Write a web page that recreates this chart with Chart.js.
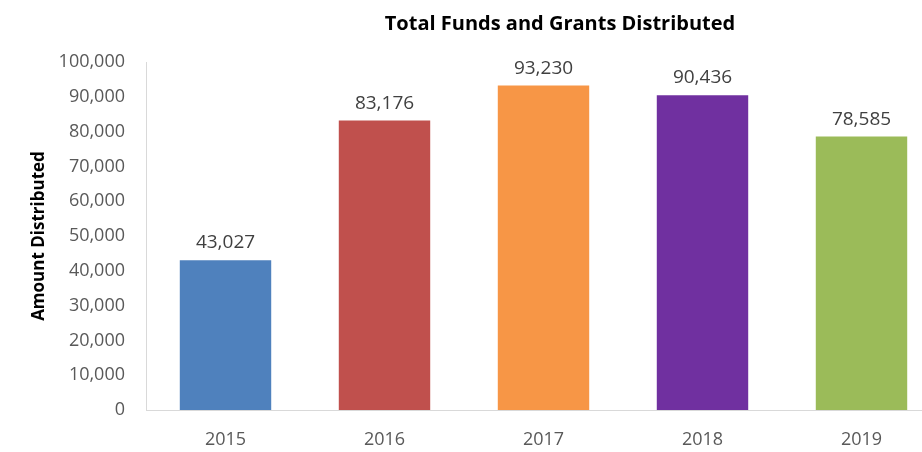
<!DOCTYPE html>
<html>
<head>
<meta charset="utf-8">
<script src="https://cdn.jsdelivr.net/npm/chart.js@4/dist/chart.umd.min.js"></script>
<style>
  html, body { margin: 0; padding: 0; background: #fff; overflow: hidden; }
  #wrap { width: 1120px; height: 452px; }
</style>
</head>
<body>
<div id="wrap"><canvas id="myChart" width="1120" height="452"></canvas></div>
<script>
const years = ['2015', '2016', '2017', '2018', '2019'];
const amounts = [43027, 83176, 93230, 90436, 78585];
const barColors = ['#4f81bd', '#c0504d', '#f79646', '#7030a0', '#9bbb59'];
const yTicks = [0, 10000, 20000, 30000, 40000, 50000, 60000, 70000, 80000, 90000, 100000];

const FONT = '"Open Sans", sans-serif';

// value labels above each bar
const valueLabels = {
    id: 'valueLabels',
    afterDatasetsDraw(chart) {
        const ctx = chart.ctx;
        const meta = chart.getDatasetMeta(0);
        ctx.save();
        ctx.font = '19px ' + FONT;
        ctx.fillStyle = '#404040';
        ctx.textAlign = 'center';
        ctx.textBaseline = 'alphabetic';
        meta.data.forEach((bar, i) => {
            ctx.fillText(amounts[i].toLocaleString('en-US'), bar.x, bar.y - 12);
        });
        ctx.restore();
    }
};

const data = {
    labels: years,
    datasets: [{
        label: 'Amount Distributed',
        data: amounts,
        backgroundColor: barColors,
        borderWidth: 0,
        categoryPercentage: 1,
        barPercentage: 0.575
    }]
};

const config = {
    type: 'bar',
    data: data,
    plugins: [valueLabels],
    options: {
        responsive: false,
        animation: false,
        layout: { padding: 0 },
        plugins: {
            legend: { display: false },
            tooltip: { enabled: false },
            title: {
                display: true,
                text: 'Total Funds and Grants Distributed',
                color: '#000',
                font: { family: FONT, size: 20, weight: 'bold' },
                padding: { top: 12, bottom: 26 }
            }
        },
        scales: {
            x: {
                grid: { display: false, drawTicks: false },
                border: { display: true, color: '#d9d9d9', width: 1 },
                ticks: {
                    color: '#595959',
                    font: { family: FONT, size: 18 },
                    padding: 19
                },
                afterFit(s) { s.height = 42; }
            },
            y: {
                min: 0,
                max: 100000,
                afterBuildTicks(s) { s.ticks = yTicks.map(v => ({ value: v })); },
                grid: { display: false, drawTicks: false },
                border: { display: true, color: '#d9d9d9', width: 1 },
                ticks: {
                    color: '#595959',
                    font: { family: FONT, size: 18 },
                    padding: 21,
                    callback: v => v.toLocaleString('en-US')
                },
                title: {
                    display: true,
                    text: 'Amount Distributed',
                    color: '#000',
                    font: { family: FONT, size: 17, weight: 'bold' },
                    padding: { top: 29, bottom: 0 }
                },
                afterFit(s) { s.width = 146; }
            },
            // empty right-hand axis that only reserves the space past the visible edge
            yRight: {
                position: 'right',
                grid: { display: false, drawTicks: false },
                border: { display: false },
                ticks: { display: false },
                afterFit(s) { s.width = 179; }
            }
        }
    }
};

new Chart(document.getElementById('myChart'), config);
</script>
</body>
</html>
